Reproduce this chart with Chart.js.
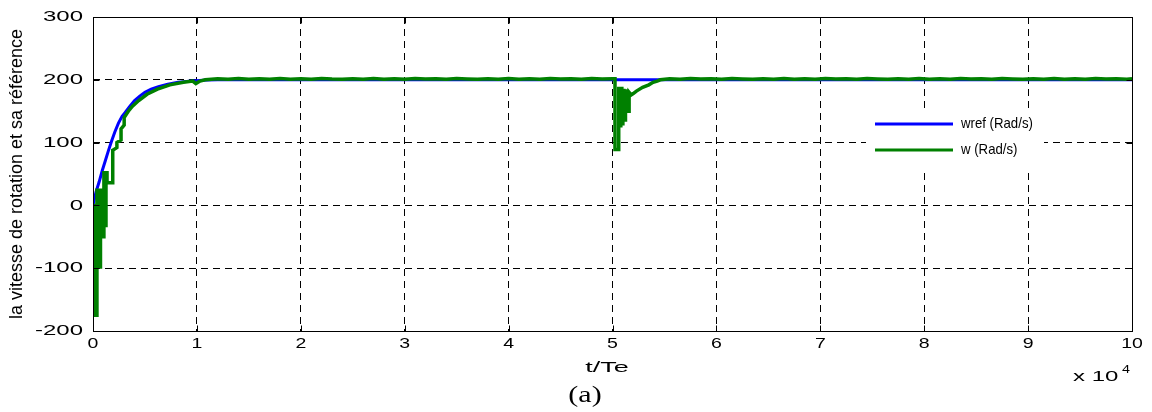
<!DOCTYPE html>
<html>
<head>
<meta charset="utf-8">
<script src="https://cdn.jsdelivr.net/npm/chart.js@4.4.1/dist/chart.umd.min.js"></script>
<style>
  html, body { margin: 0; padding: 0; background: #fff; }
  #wrap { width: 1152px; height: 412px; }
</style>
</head>
<body>
<div id="wrap"><canvas id="chart-speed" width="1152" height="412"></canvas></div>
<script>
// t in samples (axis shows t/Te x 10^4)
const refT = [0, 100, 300, 600, 900, 1200, 1500, 1800, 2100, 2450, 2800, 3100, 3500, 4000, 4500, 5000, 5600, 6300, 7200, 8200, 9500, 11000, 12000, 100000];
const refW = [0, 8, 22, 38, 56, 72, 88, 103, 117, 131, 142, 148, 157, 167, 174, 180, 185, 189, 193, 196, 198, 199.5, 200, 200];

// measured speed, repeated t values are the vertical jumps
const measT = [
  0, 200, 200, 380, 380, 520, 520, 600, 600, 670, 670, 720, 720, 800, 800, 880, 880, 960, 960,
  1050, 1050, 1150, 1150, 1250, 1250, 1350, 1350, 1900, 1900, 2300, 2300, 2700, 2700, 3000, 3000,
  3400, 3800, 4400, 5200, 6200, 7400, 8700, 9600, 9900, 10300, 10800,
  12000, 13000, 14000, 15000, 16000, 17000, 18000, 19000, 20000, 21000, 22000, 23000, 24000,
  25000, 26000, 27000, 28000, 29000, 30000, 31000, 32000, 33000, 34000, 35000, 36000, 37000,
  38000, 39000, 40000, 41000, 42000, 43000, 44000, 45000, 46000, 47000, 48000, 49000, 50000,
  50240, 50240, 50600, 50600, 50700, 50700, 50800, 50800, 50900, 50900, 51000, 51000, 51100, 51100,
  51250, 51250, 51400, 51400, 51600, 51600, 51800, 52000, 52300, 52900, 53500, 53900, 54300, 54600,
  55500, 56500, 57500, 58500, 59500, 60500, 61500, 62500, 63500, 64500, 65500, 66500, 67500,
  68500, 69500, 70500, 71500, 72500, 73500, 74500, 75500, 76500, 77500, 78500, 79500, 80500,
  81500, 82500, 83500, 84500, 85500, 86500, 87500, 88500, 89500, 90500, 91500, 92500, 93500,
  94500, 95500, 96500, 97500, 98500, 99500, 100000
];
const measW = [
  0, 0, -175, -175, 24, 24, -98, -98, 24, 24, -98, -98, 24, 24, -50, -50, 24, 24, -50,
  -50, 52, 52, -32, -32, 52, 52, 36, 36, 88, 92, 100, 104, 122, 128, 140,
  150, 158, 167, 177, 185, 192, 196, 198, 194, 198, 200,
  201.5, 200.8, 202, 201, 201.8, 200.8, 202.2, 201, 201.6, 200.8, 202, 201.2, 200.8,
  201.8, 201, 202.2, 200.8, 201.6, 201, 202, 201.2, 201.6, 200.8, 202.2, 201.4, 200.8,
  201.8, 201, 202, 200.8, 201.6, 201, 202.2, 201.2, 201.6, 200.8, 202, 201.2, 201.5,
  201.5, 89, 89, 186, 186, 127, 127, 186, 186, 130, 130, 183, 183, 136,
  136, 182, 182, 150, 150, 180, 176, 178, 182, 188, 192, 196, 198, 200,
  201.5, 200.8, 202, 201.2, 201.6, 200.8, 202.2, 201.4, 200.8, 201.8, 201, 202, 200.8,
  201.6, 201, 202.2, 201.2, 201.6, 200.8, 202, 201.4, 200.8, 201.8, 201, 202.2, 200.8,
  201.6, 201, 202, 201.2, 201.6, 200.8, 202.2, 201.4, 200.8, 201.8, 201, 202, 200.8,
  201.6, 201, 202.2, 201.2, 201.6, 201, 201.5
];

const xTicks = [0, 10000, 20000, 30000, 40000, 50000, 60000, 70000, 80000, 90000, 100000];
const yTicks = [-200, -100, 0, 100, 200, 300];

const seriesLabels = ['wref (Rad/s)', 'w (Rad/s)'];
const yTitle = 'la vitesse de rotation et sa référence';
const xTitle = 't/Te';

const sans = '"Liberation Sans", Arial, Helvetica, sans-serif';

function stretchText(ctx, text, x, y, sx, align, font) {
    ctx.save();
    ctx.font = font;
    ctx.textAlign = align;
    ctx.textBaseline = 'middle';
    ctx.translate(x, y);
    ctx.scale(sx, 1);
    ctx.fillText(text, 0, 0);
    ctx.restore();
}

const matlabFrame = {
    id: 'matlabFrame',
    afterDraw(chart) {
        const ctx = chart.ctx;
        const area = chart.chartArea;
        const xs = chart.scales.x;
        const ys = chart.scales.y;

        ctx.save();
        ctx.fillStyle = '#000';

        // tick labels
        yTicks.forEach(v => {
            stretchText(ctx, String(v), 83, ys.getPixelForValue(v), 1.6, 'right', '15px ' + sans);
        });
        xTicks.forEach(v => {
            stretchText(ctx, String(v / 10000), xs.getPixelForValue(v), 344, 1.3, 'center', '15px ' + sans);
        });

        // axis titles
        stretchText(ctx, xTitle, 607, 368, 1.8, 'center', '15px ' + sans);
        stretchText(ctx, 'x 10', 1073, 377, 1.6, 'left', '15px ' + sans);
        stretchText(ctx, '4', 1122, 370, 1.3, 'left', '11px ' + sans);
        stretchText(ctx, '(a)', 585, 396, 1.25, 'center', '24px "Liberation Serif", "Times New Roman", serif');

        ctx.save();
        ctx.translate(17, (area.top + area.bottom) / 2);
        ctx.rotate(-Math.PI / 2);
        ctx.font = '18px ' + sans;
        ctx.textAlign = 'center';
        ctx.textBaseline = 'middle';
        ctx.fillText(yTitle, 0, 0);
        ctx.restore();

        // box and inward ticks
        ctx.strokeStyle = '#000';
        ctx.lineWidth = 1;
        ctx.setLineDash([]);
        const l = Math.round(area.left) + 0.5, r = Math.round(area.right) + 0.5;
        const t = Math.round(area.top) + 0.5, b = Math.round(area.bottom) + 0.5;
        ctx.strokeRect(l, t, r - l, b - t);
        ctx.beginPath();
        xTicks.forEach(v => {
            const px = Math.round(xs.getPixelForValue(v)) + 0.5;
            ctx.moveTo(px, b); ctx.lineTo(px, b - 6);
            ctx.moveTo(px, t); ctx.lineTo(px, t + 6);
        });
        yTicks.forEach(v => {
            const py = Math.round(ys.getPixelForValue(v)) + 0.5;
            ctx.moveTo(l, py); ctx.lineTo(l + 6, py);
            ctx.moveTo(r, py); ctx.lineTo(r - 6, py);
        });
        ctx.stroke();

        // legend inside the axes
        ctx.fillStyle = '#fff';
        ctx.fillRect(866, 108, 178, 62);
        chart.data.datasets.forEach((ds, i) => {
            const y = 124 + i * 26;
            ctx.strokeStyle = ds.borderColor;
            ctx.lineWidth = 3;
            ctx.beginPath();
            ctx.moveTo(875, y);
            ctx.lineTo(953, y);
            ctx.stroke();
            ctx.fillStyle = '#000';
            stretchText(ctx, ds.label, 961, y, 0.88, 'left', '15px ' + sans);
        });
        ctx.restore();
    }
};

const chartSpeed = new Chart(document.getElementById('chart-speed'), {
    type: 'line',
    data: {
        datasets: [{
            label: seriesLabels[0],
            data: refT.map((t, i) => ({ x: t, y: refW[i] })),
            borderColor: '#0000ff',
            borderWidth: 3,
            pointRadius: 0,
            order: 1,
        }, {
            label: seriesLabels[1],
            data: measT.map((t, i) => ({ x: t, y: measW[i] })),
            borderColor: '#008000',
            borderWidth: 3.5,
            pointRadius: 0,
            order: 0,
        }]
    },
    options: {
        responsive: false,
        animation: false,
        devicePixelRatio: 1,
        layout: {
            padding: { left: 93, right: 20, top: 17, bottom: 81 }
        },
        scales: {
            x: {
                type: 'linear',
                min: 0,
                max: 100000,
                afterBuildTicks: scale => { scale.ticks = xTicks.map(v => ({ value: v })); },
                ticks: { display: false },
                grid: { color: '#000', lineWidth: 1, drawTicks: false },
                border: { display: false, dash: [7, 5] }
            },
            y: {
                min: -200,
                max: 300,
                afterBuildTicks: scale => { scale.ticks = yTicks.map(v => ({ value: v })); },
                ticks: { display: false },
                grid: { color: '#000', lineWidth: 1, drawTicks: false },
                border: { display: false, dash: [7, 5] }
            }
        },
        plugins: {
            legend: { display: false },
            tooltip: { enabled: false }
        }
    },
    plugins: [matlabFrame]
});
</script>
</body>
</html>
